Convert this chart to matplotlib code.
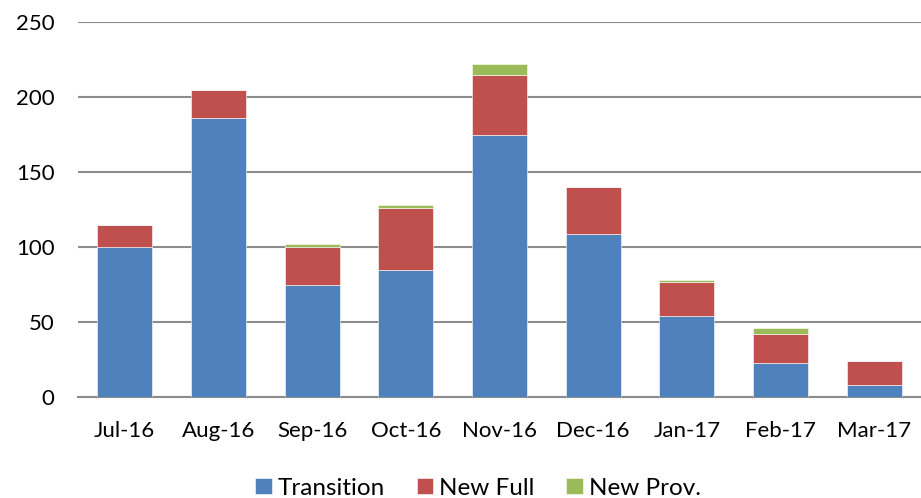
import matplotlib.pyplot as plt
import numpy as np

months = ["Jul-16", "Aug-16", "Sep-16", "Oct-16", "Nov-16",
          "Dec-16", "Jan-17", "Feb-17", "Mar-17"]
transition = [100, 186, 75, 85, 175, 109, 54, 23, 8]
new_full = [15, 19, 25, 41, 40, 31, 23, 19, 16]
new_prov = [0, 0, 2, 2, 7, 0, 1, 4, 0]

BLUE = "#4F81BD"
RED = "#C0504D"
GREEN = "#9BBB59"
GRID = "#8c8c8c"

plt.rcParams["font.family"] = ["Lato", "DejaVu Sans"]

fig = plt.figure(figsize=(9.21, 4.98), dpi=100)
ax = fig.add_axes([0.0847, 0.2028, 0.9153, 0.753])

x = np.arange(len(months))
t = np.array(transition)
f = np.array(new_full)
p = np.array(new_prov)
w = 0.59
kw = dict(width=w, edgecolor="white", linewidth=0.4, zorder=3)
ax.bar(x, t, color=BLUE, label="Transition", **kw)
ax.bar(x, f, bottom=t, color=RED, label="New Full", **kw)
ax.bar(x, p, bottom=t + f, color=GREEN, label="New Prov.", **kw)

ax.set_xlim(-0.5, len(months) - 0.5)
ax.set_ylim(0, 250)
ax.set_yticks(range(0, 251, 50))
ax.yaxis.grid(True, color=GRID, linewidth=1.5, zorder=0)
ax.set_axisbelow(True)
for s in ("top", "right", "left"):
    ax.spines[s].set_visible(False)
ax.spines["bottom"].set_color(GRID)
ax.spines["bottom"].set_linewidth(1.5)
ax.set_xticks(x)
ax.set_xticklabels(months)
ax.tick_params(axis="both", length=0, labelsize=16, colors="#000000")
ax.tick_params(axis="y", pad=17)
ax.tick_params(axis="x", pad=17)

fig.legend(loc="lower center", bbox_to_anchor=(0.519, -0.045), ncol=3,
           frameon=False, fontsize=17.5, handlelength=0.68,
           handleheight=0.68, handletextpad=0.25, columnspacing=1.3)

fig.savefig("out.png", dpi=100, facecolor="white")
